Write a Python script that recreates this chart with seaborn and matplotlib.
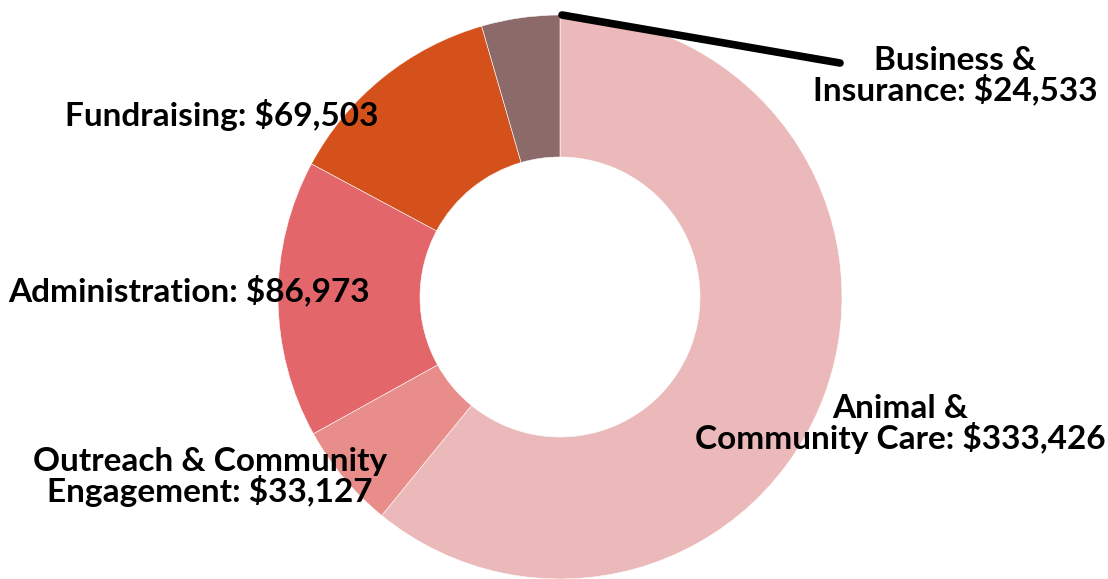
import matplotlib
matplotlib.use("Agg")
import matplotlib.pyplot as plt
import seaborn as sns

# --- Data ---
categories = ['Animal &\nCommunity Care', 'Outreach & Community\nEngagement',
              'Administration', 'Fundraising', 'Business &\nInsurance']
amounts = [333426, 33127, 86973, 69503, 24533]
colors = ['#EBB9B9', '#E88D8A', '#E3676A', '#D4511B', '#8B6A69']

# label anchor positions (pixels, y from top)
label_pos = [(900, 424), (210, 477), (189, 290), (222, 115), (955, 76)]

W, H = 1108, 579
sns.set_theme(style="white")
plt.rcParams['font.family'] = ['Lato', 'DejaVu Sans']

fig = plt.figure(figsize=(W / 100, H / 100), dpi=100)
ax = fig.add_axes([0, 0, 1, 1])

cx, cy, r = 560, H - 297, 282
ax.pie(amounts, colors=colors, startangle=90, counterclock=False,
       center=(cx, cy), radius=r,
       wedgeprops=dict(width=r - 140, edgecolor='white', linewidth=0.4))

ax.set_xlim(0, W)
ax.set_ylim(0, H)
ax.set_aspect('auto')
ax.axis('off')

# leader line for the small slice
ax.plot([562, 840], [H - 15, H - 63], color='black', lw=5.5,
        solid_capstyle='round', zorder=5)

for name, val, (x, y) in zip(categories, amounts, label_pos):
    ax.text(x, H - y, f"{name}: ${val:,}", ha='center', va='center',
            fontsize=24, fontweight='bold', color='black',
            linespacing=0.96, zorder=6)

fig.savefig('out.png', dpi=100)
